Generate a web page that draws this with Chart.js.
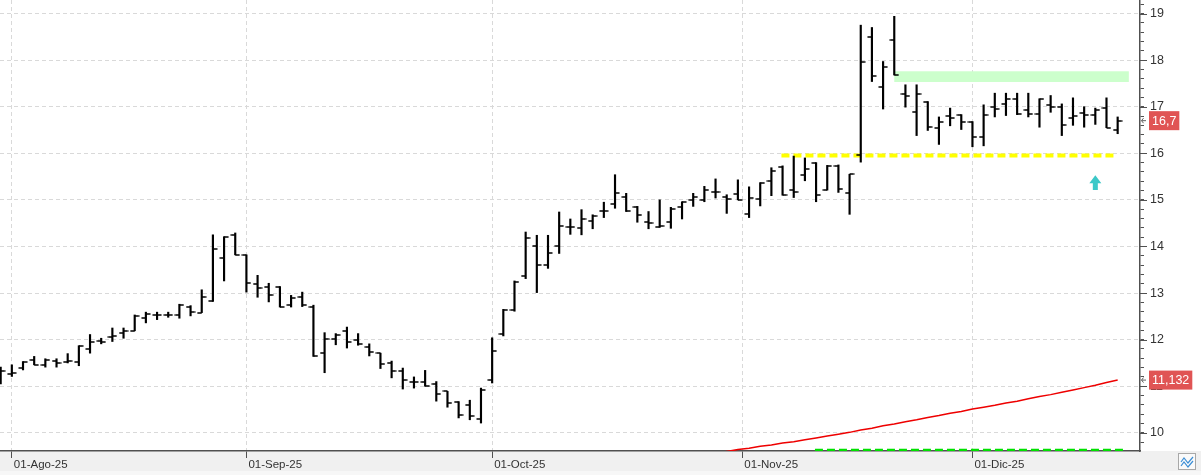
<!DOCTYPE html>
<html>
<head>
<meta charset="utf-8">
<script src="https://cdn.jsdelivr.net/npm/chart.js@4.4.1/dist/chart.umd.min.js"></script>
<style>
  html, body { margin: 0; padding: 0; background: #fff; }
</style>
</head>
<body>
<canvas id="chart" width="1201" height="475"></canvas>
<script>
// daily bars, index 0 = 31-Jul-25 ... 100 = 18-Dic-25
const opens = [11.20, 11.27, 11.39, 11.56, 11.46, 11.55, 11.52, 11.53, 11.81, 11.98,
  12.05, 12.14, 12.19, 12.47, 12.52, 12.53, 12.53, 12.71, 12.58, 12.82,
  13.76, 14.25, 13.81, 13.20, 13.14, 13.14, 12.75, 12.91, 12.71, 11.72,
  12.02, 12.18, 12.00, 11.84, 11.71, 11.49, 11.33, 11.10, 11.10, 11.04,
  10.89, 10.66, 10.60, 10.30, 11.13, 12.13, 12.63, 13.37, 14.01, 13.61,
  14.01, 14.42, 14.40, 14.55, 14.76, 14.91, 15.07, 14.84, 14.52, 14.41,
  14.52, 14.84, 15.00, 15.00, 15.16, 15.07, 15.12, 14.70, 15.01, 15.41,
  15.71, 15.21, 15.53, 15.80, 15.21, 15.73, 15.14, 15.97, 18.49, 17.42,
  18.44, 17.27, 16.89, 17.10, 16.54, 16.79, 16.82, 16.68, 16.34, 17.00,
  17.05, 17.17, 16.92, 16.85, 17.03, 16.99, 16.75, 16.87, 16.83, 16.97,
  16.50];
const highs = [11.41, 11.46, 11.53, 11.64, 11.59, 11.59, 11.70, 11.87, 12.11, 12.03,
  12.25, 12.25, 12.53, 12.59, 12.59, 12.59, 12.76, 12.73, 13.07, 14.25,
  14.21, 14.29, 13.82, 13.38, 13.21, 13.14, 12.95, 13.02, 12.74, 12.15,
  12.13, 12.27, 12.13, 11.91, 11.71, 11.54, 11.39, 11.20, 11.34, 11.10,
  10.89, 10.67, 10.70, 10.96, 12.04, 12.65, 13.26, 14.31, 14.24, 14.24,
  14.74, 14.59, 14.79, 14.68, 14.95, 15.54, 15.14, 14.86, 14.75, 15.00,
  14.84, 14.96, 15.14, 15.29, 15.45, 15.11, 15.43, 15.28, 15.37, 15.69,
  15.73, 15.94, 15.90, 15.80, 15.74, 15.75, 15.55, 18.75, 18.70, 17.97,
  18.94, 17.47, 17.47, 17.11, 16.78, 16.97, 16.83, 16.68, 17.04, 17.29,
  17.29, 17.29, 17.29, 17.17, 17.24, 17.06, 17.19, 17.00, 16.97, 17.19,
  16.78];
const lows = [11.05, 11.21, 11.35, 11.46, 11.41, 11.41, 11.50, 11.44, 11.71, 11.91,
  11.96, 12.03, 12.19, 12.36, 12.43, 12.48, 12.46, 12.51, 12.58, 12.82,
  13.26, 13.82, 13.02, 12.91, 12.81, 12.70, 12.70, 12.71, 11.64, 11.29,
  11.89, 11.82, 11.88, 11.65, 11.38, 11.18, 10.94, 10.96, 11.00, 10.68,
  10.55, 10.32, 10.28, 10.21, 11.07, 12.08, 12.61, 13.31, 13.01, 13.53,
  13.85, 14.26, 14.25, 14.38, 14.62, 14.82, 14.75, 14.52, 14.38, 14.41,
  14.39, 14.59, 14.86, 14.96, 15.04, 14.71, 15.00, 14.62, 14.87, 15.09,
  15.10, 15.05, 15.41, 14.96, 15.21, 15.16, 14.69, 15.81, 17.54, 16.95,
  17.68, 16.99, 16.38, 16.49, 16.19, 16.59, 16.51, 16.14, 16.16, 16.78,
  16.81, 16.83, 16.78, 16.56, 16.88, 16.38, 16.60, 16.56, 16.62, 16.55,
  16.42];
const closes = [11.33, 11.28, 11.51, 11.46, 11.57, 11.50, 11.54, 11.87, 11.94, 11.95,
  12.07, 12.18, 12.51, 12.55, 12.52, 12.53, 12.75, 12.59, 12.91, 13.95,
  14.21, 13.82, 13.22, 13.11, 12.96, 12.70, 12.89, 12.74, 11.65, 12.02,
  12.11, 11.94, 11.91, 11.74, 11.47, 11.32, 11.13, 11.10, 11.00, 10.83,
  10.64, 10.38, 10.37, 10.91, 11.75, 12.63, 13.24, 14.19, 13.61, 13.87,
  14.43, 14.41, 14.59, 14.66, 14.76, 15.14, 14.76, 14.68, 14.51, 14.43,
  14.80, 14.96, 15.07, 15.21, 15.16, 15.01, 15.00, 15.03, 15.36, 15.63,
  15.10, 15.17, 15.67, 15.10, 15.73, 15.23, 15.55, 17.95, 17.66, 17.85,
  17.68, 17.23, 17.27, 16.57, 16.67, 16.76, 16.68, 16.36, 16.83, 16.95,
  17.17, 16.85, 16.85, 17.17, 16.99, 16.61, 16.81, 16.83, 16.92, 16.55,
  16.70];

// moving average (red), from bar 63 on
const maStart = 63;
const maValues = [9.52, 9.56, 9.60, 9.64, 9.67, 9.71, 9.74, 9.78, 9.81, 9.85,
  9.89, 9.93, 9.97, 10.01, 10.06, 10.10, 10.15, 10.19, 10.24, 10.28,
  10.33, 10.37, 10.42, 10.46, 10.51, 10.55, 10.59, 10.64, 10.68, 10.73,
  10.78, 10.82, 10.87, 10.92, 10.97, 11.02, 11.08, 11.132];

// month ticks (bar index) and labels
const monthTicks = [1, 22, 44, 66.4, 87];
const monthLabels = ['01-Ago-25', '01-Sep-25', '01-Oct-25', '01-Nov-25', '01-Dic-25'];

// drawn levels / zones
const supportLine = { from: 69.9, to: 99.8, value: 15.95 };
const bottomLine = { from: 72.9, to: 100.7, value: 9.63 };
const zone = { from: 80, to: 101, low: 17.53, high: 17.76 };
const arrowMark = { x: 98, top: 15.53, bottom: 15.21 };
const priceTags = [
  { value: 16.7, text: '16,7' },
  { value: 11.132, text: '11,132' }
];

function tickImage(side) {
  const c = document.createElement('canvas');
  c.width = 10;
  c.height = 2;
  const g = c.getContext('2d');
  g.fillStyle = '#000';
  g.fillRect(side === 'left' ? 0.5 : 5, 0.25, 4.5, 1.5);
  return c;
}

function isMajor(v) {
  return Math.abs(v - Math.round(v)) < 1e-6;
}

const overlay = {
  id: 'overlay',
  beforeDraw(chart) {
    const { ctx, chartArea } = chart;
    ctx.save();
    ctx.fillStyle = '#ffffff';
    ctx.fillRect(0, 0, chart.width, chart.height);
    ctx.fillStyle = '#f0f0f0';
    ctx.fillRect(0, chartArea.bottom, chart.width, chart.height - chartArea.bottom);
    ctx.fillStyle = '#f7f7f7';
    ctx.fillRect(0, chart.height - 4, chart.width, 4);
    ctx.restore();
  },
  beforeDatasetsDraw(chart) {
    const { ctx, scales: { x, y } } = chart;
    ctx.save();
    ctx.fillStyle = '#ccffcc';
    const x1 = x.getPixelForValue(zone.from), x2 = x.getPixelForValue(zone.to);
    const y1 = y.getPixelForValue(zone.high), y2 = y.getPixelForValue(zone.low);
    ctx.fillRect(x1, y1, x2 - x1, y2 - y1);
    ctx.restore();
  },
  afterDatasetsDraw(chart) {
    const { ctx, scales: { x, y } } = chart;
    const ax = x.getPixelForValue(arrowMark.x);
    const at = y.getPixelForValue(arrowMark.top);
    const ab = y.getPixelForValue(arrowMark.bottom);
    ctx.save();
    ctx.fillStyle = '#3cc8c8';
    ctx.beginPath();
    ctx.moveTo(ax, at);
    ctx.lineTo(ax + 6, at + 8);
    ctx.lineTo(ax + 2.5, at + 8);
    ctx.lineTo(ax + 2.5, ab);
    ctx.lineTo(ax - 2.5, ab);
    ctx.lineTo(ax - 2.5, at + 8);
    ctx.lineTo(ax - 6, at + 8);
    ctx.closePath();
    ctx.fill();
    ctx.restore();
  },
  afterDraw(chart) {
    const { ctx, chartArea, scales: { y } } = chart;
    const axisX = chartArea.right;
    ctx.save();
    // longer marks on whole numbers
    ctx.strokeStyle = '#505050';
    ctx.lineWidth = 1;
    for (let v = 10; v <= 19; v++) {
      const py = Math.round(y.getPixelForValue(v)) + 0.5;
      ctx.beginPath();
      ctx.moveTo(axisX, py);
      ctx.lineTo(axisX + 7, py);
      ctx.stroke();
    }
    // last value tags
    ctx.font = '12.5px "Liberation Sans", Arial, sans-serif';
    ctx.textBaseline = 'middle';
    priceTags.forEach(tag => {
      const py = y.getPixelForValue(tag.value);
      const w = ctx.measureText(tag.text).width + 6;
      ctx.fillStyle = '#e05454';
      ctx.fillRect(axisX + 9, py - 9.5, w, 19);
      ctx.fillStyle = '#ffffff';
      ctx.fillText(tag.text, axisX + 12, py + 0.5);
      ctx.strokeStyle = '#606060';
      ctx.beginPath();
      ctx.moveTo(axisX + 1.5, py);
      ctx.lineTo(axisX + 6, py);
      ctx.moveTo(axisX + 3.5, py - 2.5);
      ctx.lineTo(axisX + 1.5, py);
      ctx.lineTo(axisX + 3.5, py + 2.5);
      ctx.stroke();
    });
    // small chart icon at the corner
    ctx.fillStyle = '#fafafa';
    ctx.fillRect(1178.5, 453.5, 17, 16);
    ctx.strokeStyle = '#a8a8a8';
    ctx.strokeRect(1178.5, 453.5, 17, 16);
    ctx.strokeStyle = '#3d8fd6';
    ctx.lineWidth = 1.2;
    ctx.beginPath();
    ctx.moveTo(1181, 462); ctx.lineTo(1184, 458); ctx.lineTo(1188, 463); ctx.lineTo(1193, 457);
    ctx.moveTo(1181, 466); ctx.lineTo(1184, 462); ctx.lineTo(1188, 467); ctx.lineTo(1193, 461);
    ctx.stroke();
    ctx.restore();
  }
};

const ohlcBars = highs.map((h, i) => ({ x: i, y: [lows[i], h] }));
const openPts = opens.map((v, i) => ({ x: i, y: v }));
const closePts = closes.map((v, i) => ({ x: i, y: v }));
const maPts = maValues.map((v, i) => ({ x: maStart + i, y: v }));

new Chart(document.getElementById('chart'), {
  type: 'bar',
  data: {
    datasets: [{
      type: 'line',
      data: [{ x: supportLine.from, y: supportLine.value }, { x: supportLine.to, y: supportLine.value }],
      borderColor: '#ffff00',
      borderWidth: 4,
      borderDash: [8, 4],
      pointRadius: 0,
      order: 5
    },
    {
      type: 'line',
      data: [{ x: bottomLine.from, y: bottomLine.value }, { x: bottomLine.to, y: bottomLine.value }],
      borderColor: '#00e000',
      borderWidth: 2.5,
      borderDash: [8, 4],
      pointRadius: 0,
      order: 5
    },
    {
      type: 'line',
      data: maPts,
      borderColor: '#ee0000',
      borderWidth: 1.5,
      pointRadius: 0,
      tension: 0,
      order: 4
    },
    {
      data: ohlcBars,
      backgroundColor: '#000000',
      barThickness: 1.5,
      grouped: false,
      order: 3
    },
    {
      type: 'line',
      data: openPts,
      showLine: false,
      pointStyle: tickImage('left'),
      pointRadius: 3,
      order: 2
    },
    {
      type: 'line',
      data: closePts,
      showLine: false,
      pointStyle: tickImage('right'),
      pointRadius: 3,
      order: 1
    }]
  },
  options: {
    responsive: false,
    animation: false,
    layout: { autoPadding: false, padding: 0 },
    plugins: {
      legend: { display: false },
      tooltip: { enabled: false }
    },
    scales: {
      x: {
        type: 'linear',
        min: -0.06,
        max: 102,
        offset: false,
        afterBuildTicks: scale => {
          scale.ticks = monthTicks.map(v => ({ value: v }));
        },
        afterFit: scale => {
          scale.height = 24;
          scale.paddingLeft = 0;
          scale.paddingRight = 0;
        },
        grid: { offset: false, color: '#d9d9d9', tickColor: '#505050', tickLength: 7 },
        border: { color: '#505050', width: 1.5, dash: [4, 3] },
        ticks: {
          autoSkip: false,
          maxRotation: 0,
          align: 'start',
          labelOffset: 2,
          padding: 0,
          color: '#333333',
          font: { family: '"Liberation Sans", Arial, sans-serif', size: 11.5 },
          callback: (v, i) => monthLabels[i]
        }
      },
      y: {
        position: 'right',
        min: 9.61,
        max: 19.29,
        afterFit: scale => {
          scale.width = 61;
          scale.paddingTop = 0;
          scale.paddingBottom = 0;
        },
        grid: {
          color: ctx => (ctx.tick && isMajor(ctx.tick.value)) ? '#d9d9d9' : 'rgba(0,0,0,0)',
          tickColor: '#505050',
          tickLength: 4
        },
        border: { color: '#505050', width: 1.5, dash: [4, 3] },
        ticks: {
          stepSize: 0.2,
          includeBounds: false,
          autoSkip: false,
          padding: 6,
          color: '#333333',
          font: { family: '"Liberation Sans", Arial, sans-serif', size: 12.5 },
          callback: v => isMajor(v) ? String(Math.round(v)) : ''
        }
      }
    }
  },
  plugins: [overlay]
});
</script>
</body>
</html>
